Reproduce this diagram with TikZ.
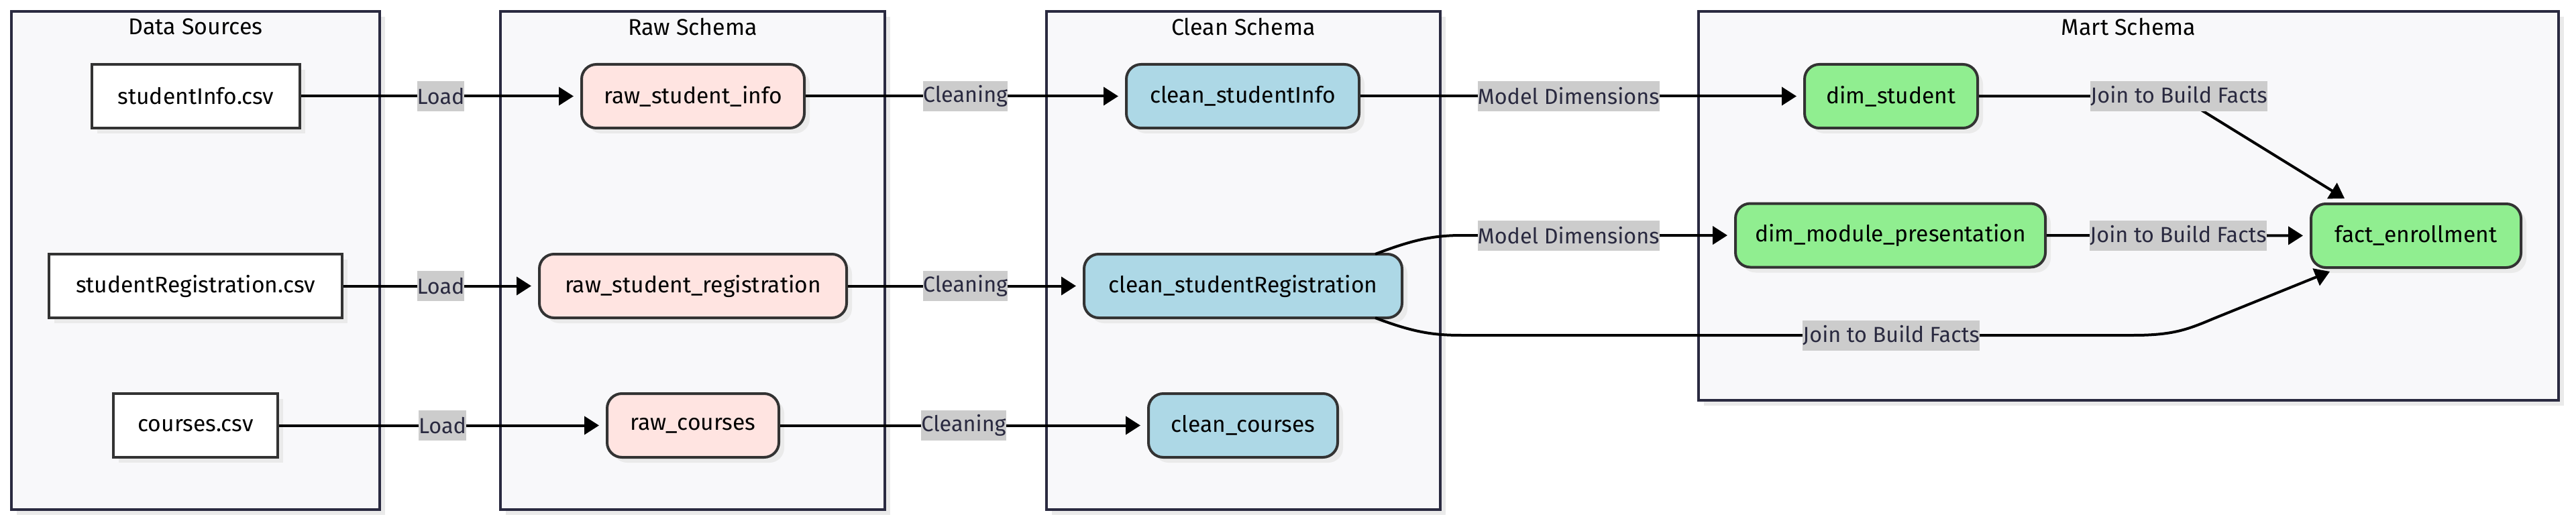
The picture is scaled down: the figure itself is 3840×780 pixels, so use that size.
\documentclass[tikz,border=0pt]{standalone}
\usepackage{fontspec}
\setmainfont{Fira Sans}
\usetikzlibrary{arrows.meta,shadows,calc}
\definecolor{clfill}{HTML}{F8F8FA}
\definecolor{clborder}{HTML}{2A2A40}
\definecolor{nborder}{HTML}{333333}
\definecolor{rawc}{HTML}{FFE4E1}
\definecolor{cleanc}{HTML}{ADD8E6}
\definecolor{martc}{HTML}{90EE90}
\definecolor{lblfill}{HTML}{CCCCCC}
\definecolor{lbltext}{HTML}{2A2A40}
\definecolor{shadowc}{HTML}{EAEAEA}
\tikzset{
  shad/.style={drop shadow={shadow xshift=2pt,shadow yshift=-2pt,fill=shadowc,opacity=1}},
  cluster/.style={draw=clborder,line width=1pt,fill=clfill,shad},
  ctitle/.style={font=\fontsize{8.5pt}{10pt}\selectfont,text=black},
  basebox/.style={draw=nborder,line width=1pt,minimum height=23.75pt,inner sep=0pt,
    font=\fontsize{8.4pt}{10pt}\selectfont,text=black,shad},
  srcbox/.style={basebox,fill=white},
  rawbox/.style={basebox,fill=rawc,rounded corners=5.5pt},
  cleanbox/.style={basebox,fill=cleanc,rounded corners=5.5pt},
  martbox/.style={basebox,fill=martc,rounded corners=5.5pt},
  edge/.style={draw=black,line width=1pt,-{Triangle[length=5.5pt,width=6.75pt]},shorten >=2.5pt},
  lbl/.style={fill=lblfill,text=lbltext,inner xsep=0pt,inner ysep=0pt,minimum height=11.25pt,
    font=\fontsize{8.1pt}{10pt}\selectfont}
}
\begin{document}
\begin{tikzpicture}[x=0.25pt,y=-0.25pt]
\useasboundingbox (0,0) rectangle (3840,780);
% clusters
\path[cluster] (17,17) rectangle (566,760);
\path[cluster] (746,17) rectangle (1319,760);
\path[cluster] (1560,17) rectangle (2147,760);
\path[cluster] (2532,17) rectangle (3814,597);
\node[ctitle] (tds) at (291.5,40) {Data Sources};
\node[ctitle] (traw) at (1032.5,40) {Raw Schema};
\node[ctitle] (tclean) at (1853.5,40) {Clean Schema};
\node[ctitle] (tmart) at (3173,40) {Mart Schema};
% nodes
\node[srcbox,minimum width=77.5pt] (src1) at (292,143.5) {studentInfo.csv};
\node[srcbox,minimum width=109.25pt] (src2) at (291.5,426.5) {studentRegistration.csv};
\node[srcbox,minimum width=61.25pt] (src3) at (291.5,634.5) {courses.csv};
\node[rawbox,minimum width=83pt] (raw1) at (1033,143.5) {raw\_student\_info};
\node[rawbox,minimum width=114.5pt] (raw2) at (1033,426.5) {raw\_student\_registration};
\node[rawbox,minimum width=64pt] (raw3) at (1033,634.5) {raw\_courses};
\node[cleanbox,minimum width=86.75pt] (cl1) at (1852.5,143.5) {clean\_studentInfo};
\node[cleanbox,minimum width=118.5pt] (cl2) at (1853,426.5) {clean\_studentRegistration};
\node[cleanbox,minimum width=70.5pt] (cl3) at (1853,634.5) {clean\_courses};
\node[martbox,minimum width=64.5pt] (dim1) at (2819,143.5) {dim\_student};
\node[martbox,minimum width=115.5pt] (dim2) at (2818,351) {dim\_module\_presentation};
\node[martbox,minimum width=78.25pt] (fact) at (3601.5,351.5) {fact\_enrollment};
% edges
\draw[edge] (src1) -- node[lbl] (l1) {Load} (raw1);
\draw[edge] (src2) -- node[lbl] (l2) {Load} (raw2);
\draw[edge] (src3) -- node[lbl] (l3) {Load} (raw3);
\draw[edge] (raw1) -- node[lbl] (c1) {Cleaning} (cl1);
\draw[edge] (raw2) -- node[lbl] (c2) {Cleaning} (cl2);
\draw[edge] (raw3) -- node[lbl] (c3) {Cleaning} (cl3);
\draw[edge] (cl1) -- (dim1);
\node[lbl] (m1) at (2338,143.5) {Model Dimensions};
\draw[edge] ($(cl2.north east)+(-42,2)$) .. controls (2110,356) and (2140,351) .. (2180,351) -- (dim2.west);
\node[lbl] (m2) at (2338,351) {Model Dimensions};
\draw[edge,shorten >=0pt] (dim1) -- (3248,143.5) -- ($(fact.north west)+(52,-6)$);
\node[lbl] (j1) at (3248,143.5) {Join to Build Facts};
\draw[edge] (dim2) -- node[lbl] (j2) {Join to Build Facts} (fact);
\draw[edge,shorten >=0pt] ($(cl2.south east)+(-42,-2)$) .. controls (2110,497) and (2140,500) .. (2180,500)
  -- (3180,500) .. controls (3240,500) and (3262,491) .. (3300,475) -- ($(fact.south west)+(30,4)$);
\node[lbl] (j3) at (2819,500) {Join to Build Facts};
\end{tikzpicture}
\end{document}
